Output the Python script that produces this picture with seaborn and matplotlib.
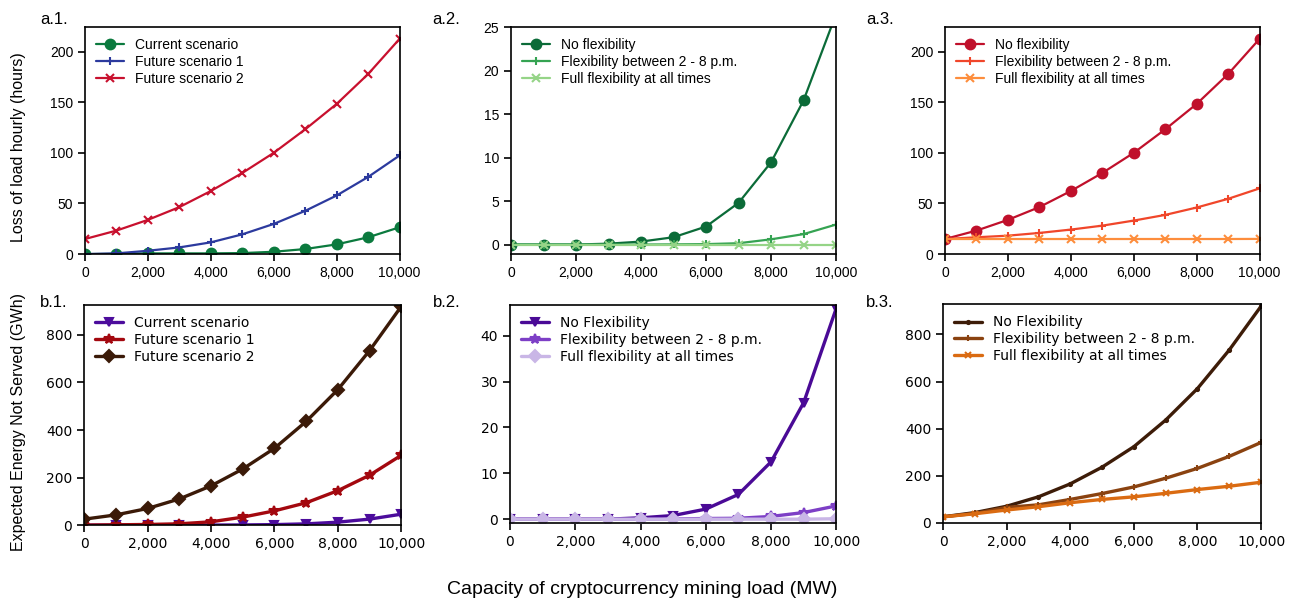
import numpy as np
import pandas as pd
import seaborn as sns
import matplotlib.pyplot as plt
from matplotlib.ticker import FuncFormatter

# capacity of mining load (MW)
capacity = [0, 1000, 2000, 3000, 4000, 5000, 6000, 7000, 8000, 9000, 10000]

# a.1 loss of load hours
lolh_current = [0, 0.3, 0.7, 0.7, 0.7, 1.0, 2.3, 5.0, 9.6, 16.6, 26.5]
lolh_future1 = [0, 0.7, 3.3, 6.6, 11.6, 19.5, 29.8, 42.7, 57.9, 76.2, 97.4]
lolh_future2 = [14.9, 23.2, 33.8, 46.4, 62.3, 80.1, 100, 123.2, 148.3, 177.8, 212.6]

# a.2 current scenario with flexibility
lolh_cur_noflex = [0, 0, 0, 0.1, 0.34, 0.84, 2.07, 4.79, 9.46, 16.58, 26.5]
lolh_cur_flex = [0, 0, 0, 0, 0, 0.02, 0.05, 0.15, 0.6, 1.2, 2.3]
lolh_cur_full = [0, 0, 0, 0, 0, 0, 0, 0, 0, 0, 0]

# a.3 future scenario 2 with flexibility
lolh_f2_noflex = lolh_future2
lolh_f2_flex = [14.9, 16.6, 18.2, 20.9, 24.2, 28.1, 33.1, 38.7, 46.0, 54.6, 64.9]
lolh_f2_full = [14.9, 14.9, 14.9, 14.9, 14.9, 14.9, 14.9, 14.9, 14.9, 14.9, 15.0]

# b.1 expected energy not served (GWh)
eens_current = [0, 0, 0, 0, 0.3, 0.8, 2.2, 5.4, 12.5, 25.4, 46.0]
eens_future1 = [0, 1.4, 2.8, 5.6, 14, 33.6, 60, 94, 145, 210, 294]
eens_future2 = [25, 43, 70, 110, 165, 236, 323, 436, 570, 734, 920]

# b.2 current scenario with flexibility
eens_cur_noflex = eens_current
eens_cur_flex = [0, 0, 0, 0, 0, 0.05, 0.15, 0.2, 0.6, 1.45, 2.9]
eens_cur_full = [0, 0, 0, 0, 0, 0, 0, 0, 0, 0, 0.1]

# b.3 future scenario 2 with flexibility
eens_f2_noflex = eens_future2
eens_f2_flex = [25, 39.5, 65, 76, 99, 124, 152, 189, 231, 282, 341]
eens_f2_full = [25, 38, 54, 68, 85, 99, 110, 125, 141, 155, 172]

scen_labels = ['Current scenario', 'Future scenario 1', 'Future scenario 2']
flex_labels_a = ['No flexibility', 'Flexibility between 2 - 8 p.m.', 'Full flexibility at all times']
flex_labels_b = ['No Flexibility', 'Flexibility between 2 - 8 p.m.', 'Full flexibility at all times']

sns.set_style('ticks')
plt.rcParams['text.color'] = 'black'

fig = plt.figure(figsize=(12.95, 6.05), dpi=100)

# panel: (tag, position, series, labels, colors, markers, marker sizes, ylim, yticks, font, lw, tag pos)
panels = [
    ('a.1.', [0.0656, 0.580, 0.243, 0.375],
     [lolh_current, lolh_future1, lolh_future2], scen_labels,
     ['#0b7a3e', '#2c3a9e', '#c8102e'], ['o', '+', 'x'], [7, 6, 6],
     (0, 224), [0, 50, 100, 150, 200], 'Liberation Sans', 1.6, (0.031, 0.967)),
    ('a.2.', [0.3946, 0.580, 0.251, 0.375],
     [lolh_cur_noflex, lolh_cur_flex, lolh_cur_full], flex_labels_a,
     ['#0b6b38', '#35a352', '#95d487'], ['o', '+', 'x'], [7, 6, 6],
     (-1.1, 25), [0, 5, 10, 15, 20, 25], 'Liberation Sans', 1.6, (0.334, 0.967)),
    ('a.3.', [0.7297, 0.580, 0.243, 0.375],
     [lolh_f2_noflex, lolh_f2_flex, lolh_f2_full], flex_labels_a,
     ['#c0102b', '#f0462a', '#fd8d3c'], ['o', '+', 'x'], [7, 6, 6],
     (0, 224), [0, 50, 100, 150, 200], 'Liberation Sans', 1.6, (0.669, 0.967)),
    ('b.1.', [0.0649, 0.132, 0.245, 0.364],
     [eens_current, eens_future1, eens_future2], scen_labels,
     ['#4c0c9c', '#a3080f', '#3b1a08'], ['v', '*', 'D'], [6, 7, 6],
     (0, 926), [0, 200, 400, 600, 800], 'DejaVu Sans', 2.4, (0.031, 0.500)),
    ('b.2.', [0.3938, 0.135, 0.252, 0.361],
     [eens_cur_noflex, eens_cur_flex, eens_cur_full], flex_labels_b,
     ['#4a0a96', '#7d3fc6', '#c9b6e6'], ['v', '*', 'D'], [6, 7, 6],
     (-0.9, 46.7), [0, 10, 20, 30, 40], 'DejaVu Sans', 2.4, (0.334, 0.500)),
    ('b.3.', [0.7282, 0.136, 0.2456, 0.361],
     [eens_f2_noflex, eens_f2_flex, eens_f2_full], flex_labels_b,
     ['#3d1c08', '#8a4210', '#da6b12'], ['.', '+', 'x'], [4.5, 4.5, 4.5],
     (0, 928), [0, 200, 400, 600, 800], 'DejaVu Sans', 2.4, (0.669, 0.500)),
]

comma = FuncFormatter(lambda v, p: f'{int(v):,}')

for tag, pos, series, labels, colors, markers, sizes, ylim, yticks, font, lw, tagpos in panels:
    ax = fig.add_axes(pos)
    for vals, lab, col, mk, ms in zip(series, labels, colors, markers, sizes):
        sns.lineplot(x=capacity, y=vals, ax=ax, label=lab, color=col,
                     marker=mk, markersize=ms, markeredgecolor=col,
                     markerfacecolor=col, markeredgewidth=1.5,
                     linewidth=lw)
    ax.set_xlim(0, 10000)
    ax.set_ylim(*ylim)
    ax.set_xticks([0, 2000, 4000, 6000, 8000, 10000])
    ax.set_yticks(yticks)
    ax.xaxis.set_major_formatter(comma)
    ax.tick_params(direction='out', length=5, width=1.2, labelsize=10, colors='black')
    for lbl in ax.get_xticklabels() + ax.get_yticklabels():
        lbl.set_fontfamily(font)
    for sp in ax.spines.values():
        sp.set_visible(True)
        sp.set_linewidth(1.2)
        sp.set_color('black')
    leg = ax.legend(loc='upper left', frameon=False, prop={'family': font, 'size': 10},
                    handlelength=2.0, borderaxespad=0.4, labelspacing=0.2)
    for t in leg.get_texts():
        t.set_color('black')
    fig.text(tagpos[0], tagpos[1], tag, fontsize=12, family='Liberation Sans',
             va='center', ha='left')

fig.text(0.014, 0.757, 'Loss of load hourly (hours)', rotation=90, fontsize=11.5,
         family='Liberation Sans', va='center', ha='center')
fig.text(0.014, 0.302, 'Expected Energy Not Served (GWh)', rotation=90, fontsize=11.5,
         family='Liberation Sans', va='center', ha='center')
fig.text(0.496, 0.025, 'Capacity of cryptocurrency mining load (MW)', fontsize=14,
         family='Liberation Sans', va='center', ha='center')

fig.savefig('out.png', dpi=100)
